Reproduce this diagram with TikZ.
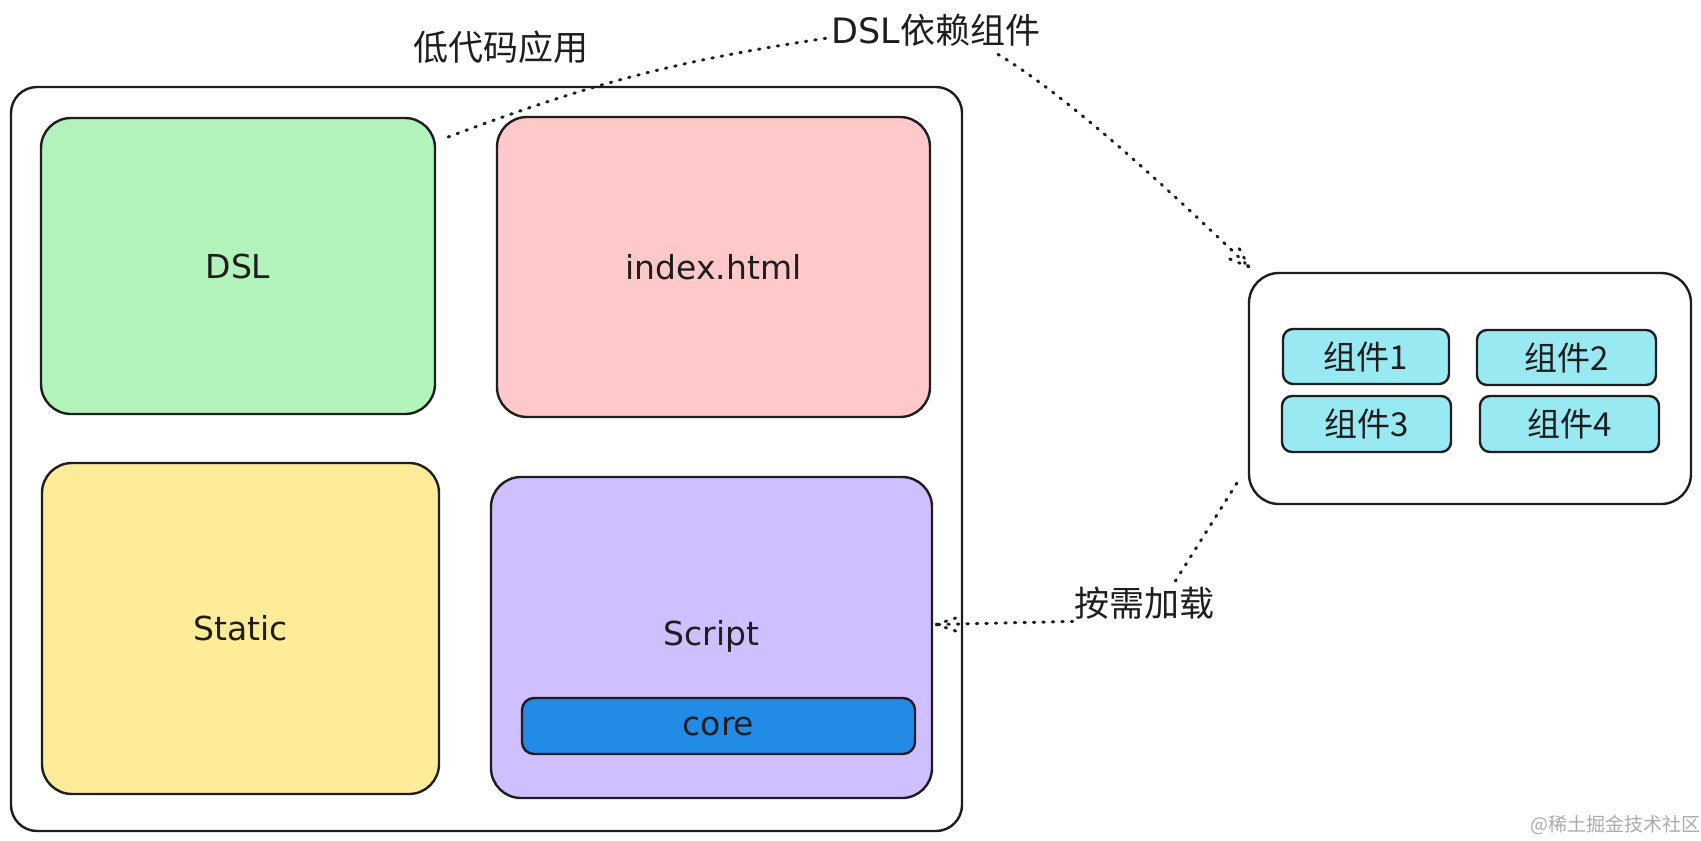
\documentclass[tikz,border=0pt]{standalone}
\usepackage{fontspec}
\setmainfont{DejaVu Sans}
\newfontfamily\cjk{Noto Sans CJK SC}
\newfontfamily\hand{DejaVu Sans}
\usetikzlibrary{calc}
\definecolor{ink}{HTML}{1E1E1E}
\definecolor{greenfill}{HTML}{B2F2BB}
\definecolor{pinkfill}{HTML}{FFC9C9}
\definecolor{yellowfill}{HTML}{FFEC99}
\definecolor{purplefill}{HTML}{D0BFFF}
\definecolor{bluefill}{HTML}{228BE6}
\definecolor{cyanfill}{HTML}{99E9F2}
\definecolor{wmgray}{HTML}{ABABAB}
\begin{document}
\begin{tikzpicture}[x=1pt,y=-1pt,
  panel/.style={draw=ink,line width=2.4pt,rounded corners=30pt,inner sep=0pt,
    font=\hand\fontsize{33}{36}\selectfont,text=ink},
  chip/.style={draw=ink,line width=2.4pt,rounded corners=10pt,fill=cyanfill,inner sep=0pt,
    font=\cjk\fontsize{33}{36}\selectfont,text=ink},
  label/.style={inner sep=0pt,font=\cjk\fontsize{35}{40}\selectfont,text=ink},
  dotline/.style={draw=ink,line width=3pt,line cap=round,dash pattern=on 1.5pt off 8pt}]
\useasboundingbox (0,0) rectangle (1701,841);

% outer application frame
\node[panel,rounded corners=26pt,minimum width=951pt,minimum height=744pt] (outer) at (486.5,459) {};
\node[label] (title) at (501,47) {低代码应用};

% four inner panels
\node[panel,fill=greenfill,minimum width=394pt,minimum height=296pt] (dsl) at (238,266) {DSL};
\node[panel,fill=pinkfill,minimum width=433pt,minimum height=300pt] (idx) at (713.5,267) {index.html};
\node[panel,fill=yellowfill,minimum width=397pt,minimum height=331pt] (static) at (240.5,628.5) {Static};
\node[panel,fill=purplefill,minimum width=441pt,minimum height=321pt,text depth=10pt] (script) at (711.5,637.5) {Script};
\node[panel,fill=bluefill,rounded corners=12pt,minimum width=393pt,minimum height=56pt] (core) at (718.5,726) {core};

% component library
\node[panel,minimum width=442pt,minimum height=231pt] (comps) at (1470,388.5) {};
\node[chip,minimum width=166pt,minimum height=55pt] (c1) at (1366,356.5) {组件1};
\node[chip,minimum width=179pt,minimum height=55pt] (c2) at (1566.5,357.5) {组件2};
\node[chip,minimum width=169pt,minimum height=56pt] (c3) at (1366.5,424) {组件3};
\node[chip,minimum width=179pt,minimum height=56pt] (c4) at (1569.5,424) {组件4};

% labels
\node[label] (dep) at (936,30) {{\hand DSL}依赖组件};
\node[label] (load) at (1144,603) {按需加载};
\node[inner sep=0pt,font=\cjk\fontsize{19}{22}\selectfont,text=wmgray] (wm) at (1615,825) {@稀土掘金技术社区};

% connectors
\coordinate (a1) at ($(dsl.east)+(12,-129)$);
\coordinate (a1e) at ($(dep.west)+(-4,8)$);
\draw[dotline] (a1) to[bend left=6] (a1e);

\coordinate (a2) at ($(dep.south)+(62,8)$);
\coordinate (t2) at ($(comps.north west)+(1,-5)$);
\draw[dotline] (a2) .. controls ($(a2)+(72,43)$) and ($(t2)+(-70,-68)$) .. (t2);
\draw[dotline] (t2) -- ++(-22,-9);
\draw[dotline] (t2) -- ++(-11,-21);

\coordinate (a3) at ($(comps.south west)+(-11,-22)$);
\coordinate (a3e) at ($(load.north)+(31,-5)$);
\draw[dotline] (a3) -- (a3e);
\coordinate (a4) at ($(load.south west)+(-1,2)$);
\coordinate (t4) at ($(script.east)+(3,-13)$);
\draw[dotline] (a4) -- (t4);
\draw[dotline] (t4) -- ++(27,-9);
\draw[dotline] (t4) -- ++(27,9);
\end{tikzpicture}
\end{document}
